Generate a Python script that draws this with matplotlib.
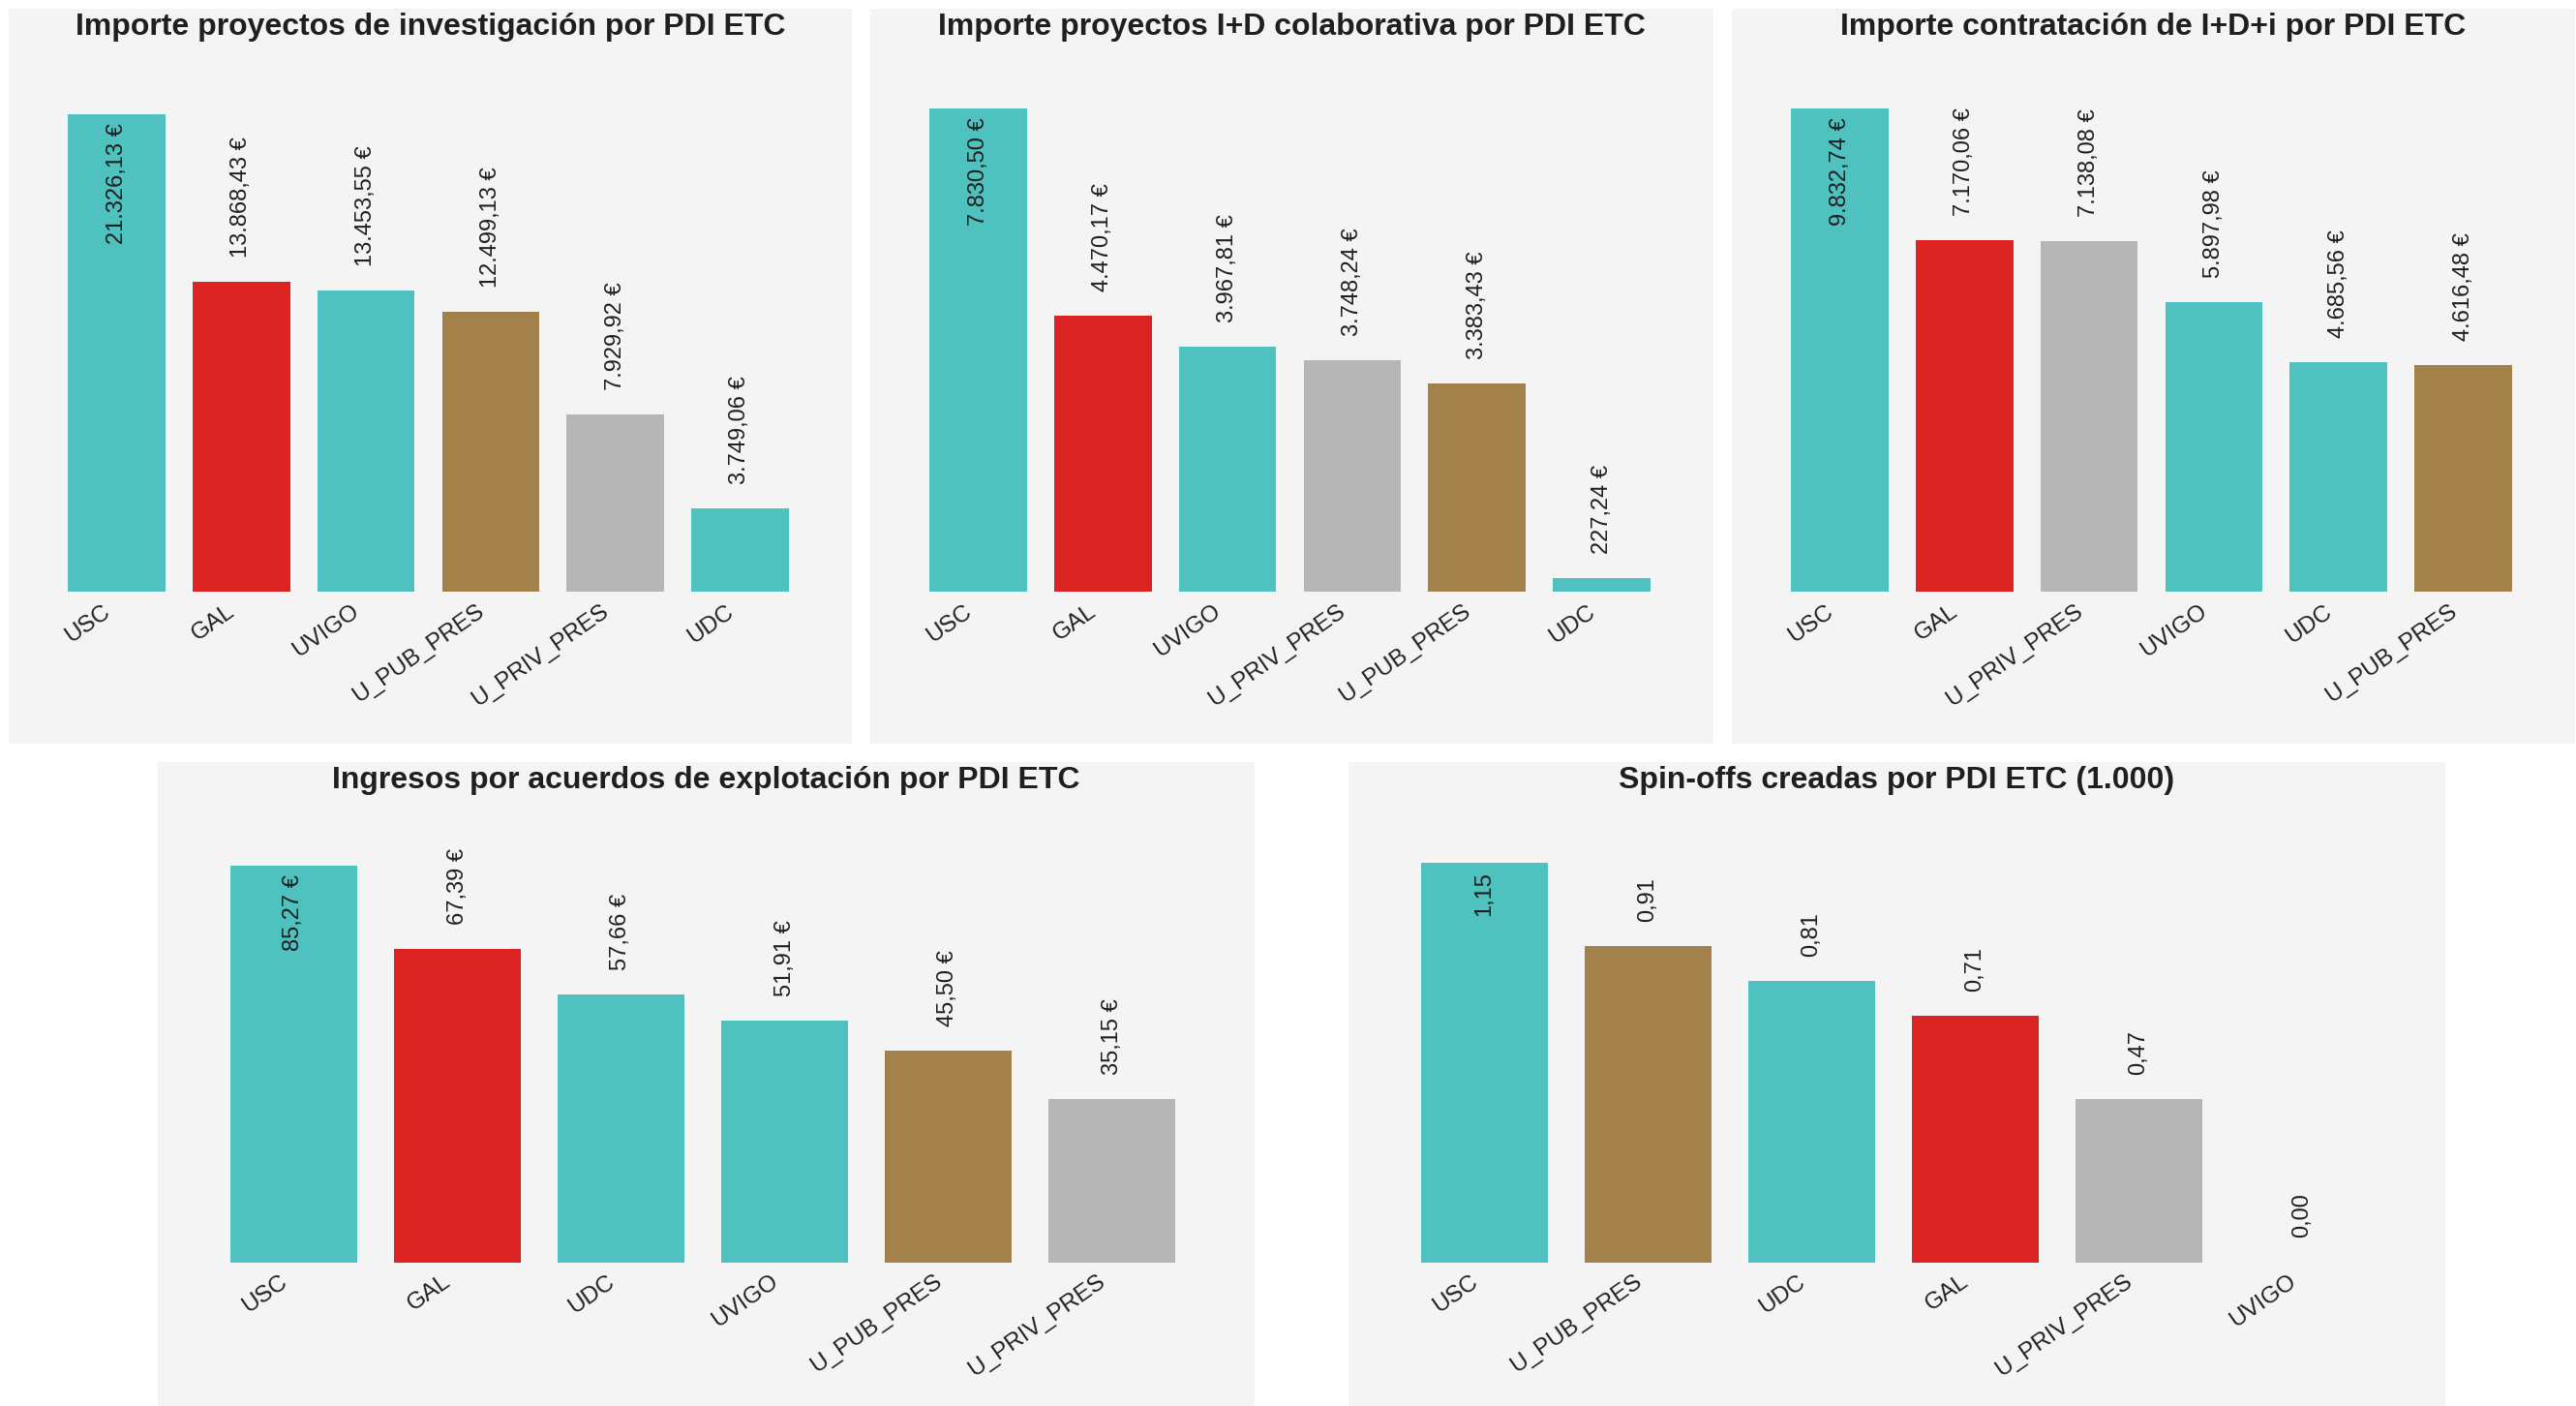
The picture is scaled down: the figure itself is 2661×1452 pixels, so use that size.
import matplotlib
matplotlib.use("Agg")
import matplotlib.pyplot as plt
from matplotlib.patches import Rectangle
from matplotlib.transforms import ScaledTranslation

plt.rcParams['font.family'] = ['Liberation Sans', 'DejaVu Sans']

# ---------------- data ----------------
titles = [
    "Importe proyectos de investigación por PDI ETC",
    "Importe proyectos I+D colaborativa por PDI ETC",
    "Importe contratación de I+D+i por PDI ETC",
    "Ingresos por acuerdos de explotación por PDI ETC",
    "Spin-offs creadas por PDI ETC (1.000)",
]

cats_1 = ["USC", "GAL", "UVIGO", "U_PUB_PRES", "U_PRIV_PRES", "UDC"]
vals_1 = [21326.13, 13868.43, 13453.55, 12499.13, 7929.92, 3749.06]

cats_2 = ["USC", "GAL", "UVIGO", "U_PRIV_PRES", "U_PUB_PRES", "UDC"]
vals_2 = [7830.50, 4470.17, 3967.81, 3748.24, 3383.43, 227.24]

cats_3 = ["USC", "GAL", "U_PRIV_PRES", "UVIGO", "UDC", "U_PUB_PRES"]
vals_3 = [9832.74, 7170.06, 7138.08, 5897.98, 4685.56, 4616.48]

cats_4 = ["USC", "GAL", "UDC", "UVIGO", "U_PUB_PRES", "U_PRIV_PRES"]
vals_4 = [85.27, 67.39, 57.66, 51.91, 45.50, 35.15]

cats_5 = ["USC", "U_PUB_PRES", "UDC", "GAL", "U_PRIV_PRES", "UVIGO"]
vals_5 = [1.15, 0.91, 0.81, 0.71, 0.47, 0.00]

euro = [True, True, True, True, False]

colors = {
    "USC": "#4FC1BE", "UVIGO": "#4FC1BE", "UDC": "#4FC1BE",
    "GAL": "#DC2324", "U_PUB_PRES": "#A3814A", "U_PRIV_PRES": "#B6B6B6",
}

# ---------------- layout (pixels) ----------------
W, H, DPI = 2661, 1452, 100
PANEL_BG = "#F4F4F4"
TXT = "#1f1f1f"

# panel rect: (left, top, width, height), first bar centre offset, bar step,
# baseline y, pixel height of tallest bar, axes top y
panels = [
    dict(rect=(9, 9, 871, 759), c0=111.5, step=128.8, base=611.5, maxpx=493.5, atop=60),
    dict(rect=(899, 9, 871, 759), c0=111.5, step=128.8, base=611.5, maxpx=499.5, atop=60),
    dict(rect=(1789, 9, 871, 759), c0=111.5, step=128.8, base=611.5, maxpx=499.0, atop=60),
    dict(rect=(163, 787, 1133, 665), c0=140.5, step=169.0, base=1303.5, maxpx=409.5, atop=840),
    dict(rect=(1393, 787, 1133, 665), c0=140.5, step=169.0, base=1303.5, maxpx=412.5, atop=840),
]

data = [(cats_1, vals_1), (cats_2, vals_2), (cats_3, vals_3),
        (cats_4, vals_4), (cats_5, vals_5)]


def fmt(v, with_euro):
    s = f"{v:,.2f}".replace(",", "X").replace(".", ",").replace("X", ".")
    return s + " €" if with_euro else s


fig = plt.figure(figsize=(W / DPI, H / DPI), dpi=DPI)
fig.patch.set_facecolor("white")

px = 72.0 / DPI  # points per pixel

for p, (cats, vals), title, eu in zip(panels, data, titles, euro):
    L, T, PW, PH = p["rect"]
    bg = Rectangle((L / W, 1 - (T + PH) / H), PW / W, PH / H,
                   transform=fig.transFigure, facecolor=PANEL_BG,
                   edgecolor="none", zorder=-10)
    fig.add_artist(bg)
    fig.text((L + PW / 2) / W, 1 - (T + 27) / H, title, ha="center",
             va="baseline", fontsize=23, fontweight="bold", color=TXT)

    n = len(cats)
    ax_left = L + p["c0"] - 0.5 * p["step"]
    ax_w = n * p["step"]
    ax_h = p["base"] - p["atop"]
    ax = fig.add_axes([ax_left / W, 1 - p["base"] / H, ax_w / W, ax_h / H])
    ax.set_facecolor("none")
    for s in ax.spines.values():
        s.set_visible(False)
    vmax = max(vals)
    ax.set_xlim(-0.5, n - 0.5)
    ax.set_ylim(0, vmax * ax_h / p["maxpx"])
    ax.set_xticks([])
    ax.set_yticks([])

    xs = list(range(n))
    ax.bar(xs, vals, width=0.78, color=[colors[c] for c in cats], zorder=2)

    for x, v in zip(xs, vals):
        if v == vmax:
            ax.annotate(fmt(v, eu), xy=(x, v), xytext=(0, -9 * px),
                        textcoords="offset points", rotation=90, ha="center",
                        va="top", fontsize=17, color=TXT, zorder=3)
        else:
            ax.annotate(fmt(v, eu), xy=(x, v), xytext=(0, 25 * px),
                        textcoords="offset points", rotation=90, ha="center",
                        va="bottom", fontsize=17, color=TXT, zorder=3)

    off = ScaledTranslation(-9 / DPI, -18 / DPI, fig.dpi_scale_trans)
    for x, c in zip(xs, cats):
        ax.text(x, 0, c, transform=ax.get_xaxis_transform() + off,
                rotation=35, rotation_mode="anchor", ha="right", va="center",
                fontsize=17.5, color=TXT, clip_on=False)

fig.savefig("out.png", dpi=DPI, facecolor="white")
